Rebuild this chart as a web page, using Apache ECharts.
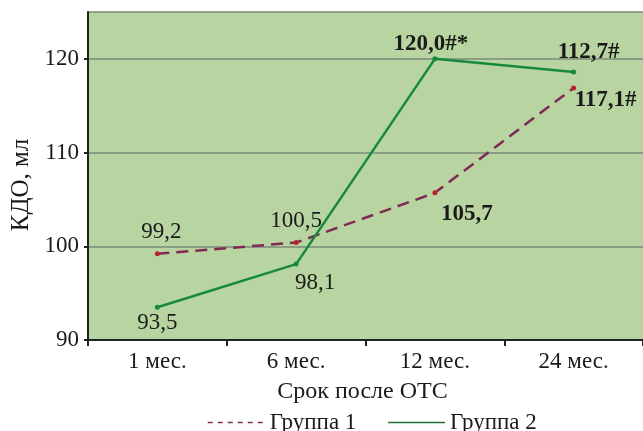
<!DOCTYPE html>
<html>
<head>
<meta charset="utf-8">
<script src="https://cdn.jsdelivr.net/npm/echarts@6/dist/echarts.min.js"></script>
<style>
    html, body { margin: 0; padding: 0; background: #fff; }
    #lineChart { width: 643px; height: 431px; }
</style>
</head>
<body>
<div id="lineChart"></div>
<script>
var categories = ['1 мес.', '6 мес.', '12 мес.', '24 мес.'];
var group1 = [99.2, 100.4, 105.7, 116.9];
var group2 = [93.5, 98.1, 120.0, 118.6];
var group1Labels = ['99,2', '100,5', '105,7', '117,1#'];
var group2Labels = ['93,5', '98,1', '120,0#*', '112,7#'];
var yTicks = [90, 100, 110, 120];

(function(){
    var myChart = echarts.init(document.getElementById('lineChart'));
    var serif = 'Liberation Serif';

    // label offsets from the point, and bold or not
    var g1Offset = [[4, -22], [0, -22], [32, 21], [32, 12]];
    var g1Bold = [false, false, true, true];
    var g2Offset = [[0, 16], [19, 19], [-4, -15], [15, -20]];
    var g2Bold = [false, false, true, true];

    function makeData(values, texts, offsets, bold) {
        return values.map(function (v, i) {
            return {
                value: v,
                label: {
                    show: true,
                    position: 'inside',
                    offset: offsets[i],
                    formatter: texts[i],
                    fontFamily: serif,
                    fontSize: 23,
                    fontWeight: bold[i] ? 'bold' : 'normal',
                    color: '#1a1a1a'
                }
            };
        });
    }

    var option = {
        animation: false,
        grid: {
            left: 88,
            top: 12,
            width: 564,
            height: 328,
            show: true,
            backgroundColor: '#b8d5a1',
            borderWidth: 0
        },
        legend: {
            left: 202,
            top: 406,
            itemWidth: 57,
            itemHeight: 14,
            itemGap: 31,
            textStyle: {
                fontFamily: serif,
                fontSize: 23,
                color: '#1a1a1a'
            },
            itemStyle: { opacity: 0 },
            data: [
                { name: 'Группа 1', lineStyle: { width: 1.5, type: [5, 5] } },
                { name: 'Группа 2', lineStyle: { width: 1.5, color: '#1f6e3a' } }
            ]
        },
        xAxis: {
            type: 'category',
            data: categories,
            boundaryGap: true,
            name: 'Срок после ОТС',
            nameLocation: 'middle',
            nameGap: 40,
            nameTextStyle: {
                fontFamily: serif,
                fontSize: 24,
                color: '#1a1a1a',
                padding: [0, 6, 0, 0]
            },
            axisLine: { lineStyle: { color: '#222', width: 2 } },
            axisTick: { show: true, length: 6, lineStyle: { color: '#222', width: 2 } },
            axisLabel: {
                fontFamily: serif,
                fontSize: 23,
                color: '#1a1a1a',
                margin: 10
            },
            splitLine: { show: false }
        },
        yAxis: {
            type: 'value',
            min: yTicks[0],
            max: 125,
            interval: 10,
            name: 'КДО, мл',
            nameLocation: 'middle',
            nameGap: 54,
            nameTextStyle: {
                fontFamily: serif,
                fontSize: 25,
                color: '#1a1a1a',
                padding: [0, 18, 0, 0]
            },
            axisLine: { show: true, lineStyle: { color: '#222', width: 2 } },
            axisTick: { show: true, length: 4, lineStyle: { color: '#222', width: 2 } },
            axisLabel: {
                fontFamily: serif,
                fontSize: 23,
                color: '#1a1a1a',
                margin: 9,
                showMaxLabel: false
            },
            splitLine: {
                show: true,
                lineStyle: { color: '#7e8a7e', width: 1.5 }
            }
        },
        series: [
            {
                name: 'Группа 1',
                type: 'line',
                symbol: 'circle',
                symbolSize: 5,
                itemStyle: { color: '#b8242a' },
                lineStyle: { color: '#7f2a55', width: 2.5, type: [12, 7] },
                data: makeData(group1, group1Labels, g1Offset, g1Bold),
                z: 3
            },
            {
                name: 'Группа 2',
                type: 'line',
                symbol: 'circle',
                symbolSize: 5,
                itemStyle: { color: '#17893b' },
                lineStyle: { color: '#17893b', width: 2.5 },
                data: makeData(group2, group2Labels, g2Offset, g2Bold),
                z: 4
            }
        ]
    };
    myChart.setOption(option);
})();
</script>
</body>
</html>
